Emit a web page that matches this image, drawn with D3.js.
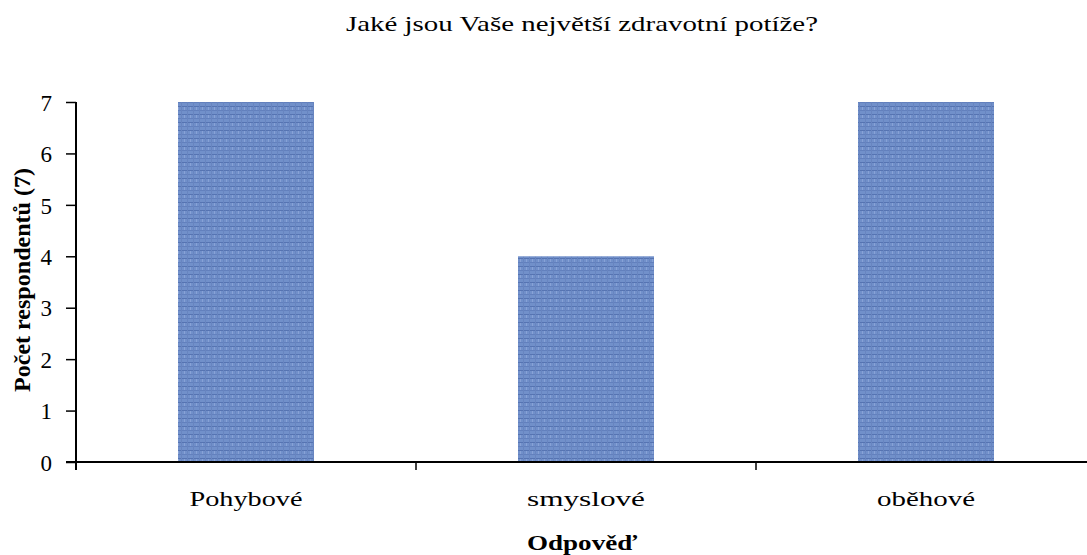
<!DOCTYPE html>
<html>
<head>
<meta charset="utf-8">
<script src="https://cdn.jsdelivr.net/npm/d3@7"></script>
<style>
  body { margin: 0; background: #fff; }
  svg { display: block; }
</style>
</head>
<body>
<svg id="chart" width="1087" height="555"></svg>
<script>
const categories = ["Pohybové", "smyslové", "oběhové"];
const counts = [7, 4, 7];
const yTicks = [0, 1, 2, 3, 4, 5, 6, 7];
const title = "Jaké jsou Vaše největší zdravotní potíže?";
const xTitle = "Odpověď";
const yTitle = "Počet respondentů (7)";

const FONT = '"Liberation Serif", Tinos, "Times New Roman", serif';
const svg = d3.select("#chart");
const W = 1087, H = 555;
const plotLeft = 76, plotTop = 102, plotBottom = 462, plotRight = 1096;

// Textured blue fill for the bars
const defs = svg.append("defs");
const pat = defs.append("pattern")
  .attr("id", "tex").attr("patternUnits", "userSpaceOnUse")
  .attr("width", 6).attr("height", 8);
pat.append("rect").attr("width", 6).attr("height", 8).attr("fill", "#7190ca");
pat.append("rect").attr("y", 2).attr("width", 6).attr("height", 1).attr("fill", "#5674b2");
pat.append("rect").attr("y", 6).attr("width", 6).attr("height", 1).attr("fill", "#6280bd");
pat.append("rect").attr("x", 1).attr("width", 1).attr("height", 8).attr("fill", "#6885c0");
pat.append("rect").attr("x", 4).attr("y", 3).attr("width", 1).attr("height", 3).attr("fill", "#88a2d6");

const x = d3.scaleBand().domain(categories).range([plotLeft, plotRight]).paddingInner(0).paddingOuter(0);
const y = d3.scaleLinear().domain([0, 7]).range([plotBottom, plotTop]);

// Bars: 40% of each category band, centred
const barW = x.bandwidth() * 0.4;
svg.append("g").selectAll("rect").data(categories).join("rect")
  .attr("x", d => x(d) + (x.bandwidth() - barW) / 2)
  .attr("y", (d, i) => y(counts[i]))
  .attr("width", barW)
  .attr("height", (d, i) => y(0) - y(counts[i]))
  .attr("fill", "url(#tex)");

// Y axis
const yAxis = svg.append("g").attr("transform", `translate(${plotLeft},0)`)
  .call(d3.axisLeft(y).tickValues(yTicks).tickFormat(d3.format("d")).tickSize(10).tickPadding(14));
yAxis.select(".domain").remove();
yAxis.attr("font-family", null);
yAxis.selectAll("line").attr("stroke", "#000").attr("stroke-width", 1.5);
yAxis.selectAll("text")
  .style("font-family", FONT).style("font-size", "23px").attr("fill", "#000")
  .attr("dy", "0.36em");
svg.append("line").attr("x1", plotLeft).attr("x2", plotLeft).attr("y1", plotTop).attr("y2", plotBottom + 8)
  .attr("stroke", "#000").attr("stroke-width", 2);

// X axis: line with boundary ticks between categories
svg.append("line").attr("x1", plotLeft - 10).attr("x2", W).attr("y1", plotBottom).attr("y2", plotBottom)
  .attr("stroke", "#000").attr("stroke-width", 2);
svg.append("g").selectAll("line").data(categories.slice(1)).join("line")
  .attr("x1", d => x(d)).attr("x2", d => x(d))
  .attr("y1", plotBottom).attr("y2", plotBottom + 8)
  .attr("stroke", "#000").attr("stroke-width", 1.5);
const labelWidths = [113, 118, 98];
svg.append("g").selectAll("text").data(categories).join("text")
  .attr("x", d => x(d) + x.bandwidth() / 2)
  .attr("y", 506)
  .attr("text-anchor", "middle")
  .style("font-family", FONT).style("font-size", "22px")
  .attr("textLength", (d, i) => labelWidths[i]).attr("lengthAdjust", "spacingAndGlyphs")
  .text(d => d);

// Titles
svg.append("text").attr("x", 582).attr("y", 31).attr("text-anchor", "middle")
  .style("font-family", FONT).style("font-size", "22px")
  .attr("textLength", 472).attr("lengthAdjust", "spacingAndGlyphs")
  .text(title);
svg.append("text").attr("x", 582).attr("y", 550).attr("text-anchor", "middle")
  .style("font-family", FONT).style("font-size", "22px").style("font-weight", "bold")
  .attr("textLength", 110).attr("lengthAdjust", "spacingAndGlyphs")
  .text(xTitle);
svg.append("text")
  .attr("transform", "translate(30,280) rotate(-90)")
  .attr("text-anchor", "middle")
  .style("font-family", FONT).style("font-size", "23px").style("font-weight", "bold")
  .attr("textLength", 224).attr("lengthAdjust", "spacingAndGlyphs")
  .text(yTitle);
</script>
</body>
</html>
